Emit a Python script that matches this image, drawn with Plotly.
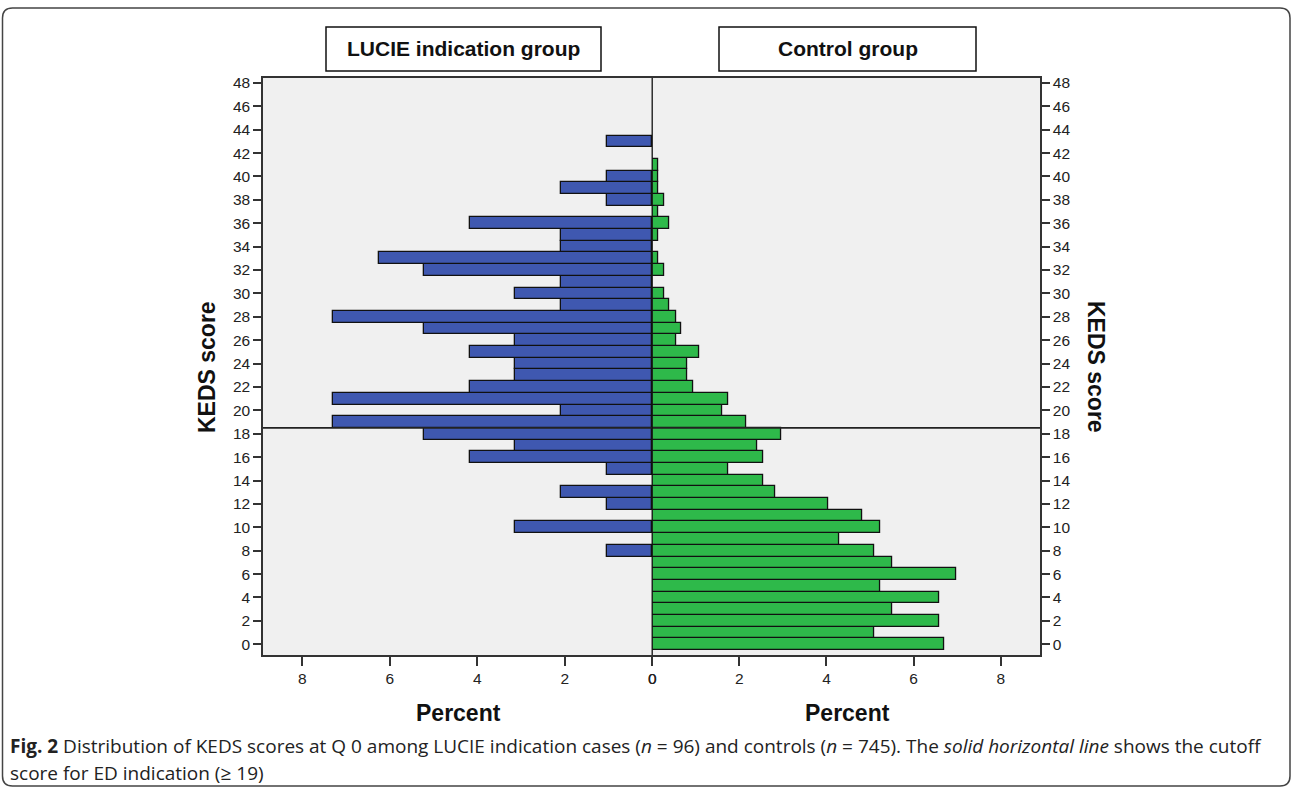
import plotly.graph_objects as go

# ---------------- data ----------------
scores = list(range(0, 44))
lucie_pct = [0, 0, 0, 0, 0, 0, 0, 0, 1.04, 0,
             3.13, 0, 1.04, 2.08, 0, 1.04, 4.17, 3.13, 5.21, 7.29,
             2.08, 7.29, 4.17, 3.13, 3.13, 4.17, 3.13, 5.21, 7.29, 2.08,
             3.13, 2.08, 5.21, 6.25, 2.08, 2.08, 4.17, 0, 1.04, 2.08,
             1.04, 0, 0, 1.04]
control_pct = [6.71, 5.10, 6.58, 5.50, 6.58, 5.23, 6.98, 5.50, 5.10, 4.30,
               5.23, 4.83, 4.03, 2.82, 2.55, 1.74, 2.55, 2.42, 2.95, 2.15,
               1.61, 1.74, 0.94, 0.81, 0.81, 1.07, 0.54, 0.67, 0.54, 0.40,
               0.27, 0, 0.27, 0.13, 0, 0.13, 0.40, 0.13, 0.27, 0.13,
               0.13, 0.13, 0, 0]
cutoff = 18.5
x_ticks = [0, 2, 4, 6, 8]
y_ticks = list(range(0, 49, 2))
left_title = "LUCIE indication group"
right_title = "Control group"

# ---------------- geometry ----------------
W, H = 1293, 791
L, R, T, B = 263, 253, 78, 136
PW, PH = W - L - R, H - T - B


def px(x):
    return (x - L) / PW


def py(y):
    return (H - B - y) / PH


split = px(652.2)
BLUE = "#3F58B0"
GREEN = "#2EB94A"
font_main = "Liberation Sans, Arial, sans-serif"

fig = go.Figure()
fig.add_trace(go.Bar(
    y=scores, x=[v if v else None for v in lucie_pct], orientation="h",
    width=1, marker=dict(color=BLUE, line=dict(color="#111", width=1.3)),
    xaxis="x", yaxis="y", showlegend=False, hoverinfo="x+y"))
fig.add_trace(go.Bar(
    y=scores, x=[v if v else None for v in control_pct], orientation="h",
    width=1, marker=dict(color=GREEN, line=dict(color="#111", width=1.3)),
    xaxis="x2", yaxis="y2", showlegend=False, hoverinfo="x+y"))

axis_common = dict(showgrid=False, zeroline=False, showline=True,
                   linecolor="#333", linewidth=1.5, ticks="outside",
                   tickwidth=1.5, tickcolor="#333",
                   tickfont=dict(family=font_main, size=15.5, color="#222"))

fig.update_layout(
    width=W, height=H,
    margin=dict(l=L, r=R, t=T, b=B, autoexpand=False),
    paper_bgcolor="white", plot_bgcolor="#F0F0F0",
    bargap=0,
    xaxis=dict(domain=[0, split], range=[8.9, 0], tickvals=x_ticks,
               anchor="y", ticklen=9, mirror=True, **axis_common),
    xaxis2=dict(domain=[split, 1], range=[0, 8.9], tickvals=x_ticks,
                anchor="y2", ticklen=9, mirror=True, **axis_common),
    yaxis=dict(range=[-0.92, 48.42], tickvals=y_ticks, anchor="x",
               ticklen=8, **axis_common),
    yaxis2=dict(range=[-0.92, 48.42], tickvals=y_ticks, anchor="x2",
                side="right", matches="y", ticklen=8, **axis_common),
)

shapes = []
# cutoff line across both panels
shapes.append(dict(type="line", xref="paper", yref="y", x0=0, x1=1,
                   y0=cutoff, y1=cutoff, line=dict(color="#222", width=1.6)))
# centre line
shapes.append(dict(type="line", xref="paper", yref="paper", x0=split, x1=split,
                   y0=0, y1=1, line=dict(color="#111", width=1.3)))
# header boxes
for (x0, x1) in [(326, 601), (719, 976)]:
    shapes.append(dict(type="rect", xref="paper", yref="paper",
                       x0=px(x0), x1=px(x1), y0=py(71), y1=py(27),
                       line=dict(color="#111", width=1.5), fillcolor="white"))
# outer rounded frame
fx0, fx1, fy0, fy1, r = 2.5, 1290, 8, 786, 10
path = (f"M {px(fx0 + r)},{py(fy0)} L {px(fx1 - r)},{py(fy0)} "
        f"Q {px(fx1)},{py(fy0)} {px(fx1)},{py(fy0 + r)} "
        f"L {px(fx1)},{py(fy1 - r)} Q {px(fx1)},{py(fy1)} {px(fx1 - r)},{py(fy1)} "
        f"L {px(fx0 + r)},{py(fy1)} Q {px(fx0)},{py(fy1)} {px(fx0)},{py(fy1 - r)} "
        f"L {px(fx0)},{py(fy0 + r)} Q {px(fx0)},{py(fy0)} {px(fx0 + r)},{py(fy0)} Z")
shapes.append(dict(type="path", xref="paper", yref="paper", path=path,
                   line=dict(color="#444", width=1.5)))
fig.update_layout(shapes=shapes)

ann = []
ann.append(dict(text=f"<b>{left_title}</b>", x=px(463.5), y=py(48.5)))
ann.append(dict(text=f"<b>{right_title}</b>", x=px(847.5), y=py(48.5)))
for a in ann:
    a.update(xref="paper", yref="paper", showarrow=False, xanchor="center",
             yanchor="middle", font=dict(family=font_main, size=21, color="#111"))
titles = [
    dict(text="<b>Percent</b>", x=px(458), y=py(713), textangle=0),
    dict(text="<b>Percent</b>", x=px(847), y=py(713), textangle=0),
    dict(text="<b>KEDS score</b>", x=px(207), y=py(367), textangle=-90),
    dict(text="<b>KEDS score</b>", x=px(1096), y=py(367), textangle=90),
]
for t in titles:
    t.update(xref="paper", yref="paper", showarrow=False, xanchor="center",
             yanchor="middle", font=dict(family=font_main, size=23, color="#111"))
ann += titles
cap_font = dict(family="Open Sans, sans-serif", size=19, color="#222")
ann.append(dict(
    text="<b>Fig. 2</b> Distribution of KEDS scores at Q 0 among LUCIE indication cases "
         "(<i>n</i> = 96) and controls (<i>n</i> = 745). The <i>solid horizontal line</i> "
         "shows the cutoff",
    x=px(8), y=py(746), xref="paper", yref="paper", showarrow=False,
    xanchor="left", yanchor="middle", font=cap_font))
ann.append(dict(
    text="score for ED indication (≥ 19)",
    x=px(8), y=py(773), xref="paper", yref="paper", showarrow=False,
    xanchor="left", yanchor="middle", font=cap_font))
fig.update_layout(annotations=ann)

fig.write_html("out.html", config={"displayModeBar": False},
               post_script="document.body.style.margin='0';document.body.style.padding='0';")
